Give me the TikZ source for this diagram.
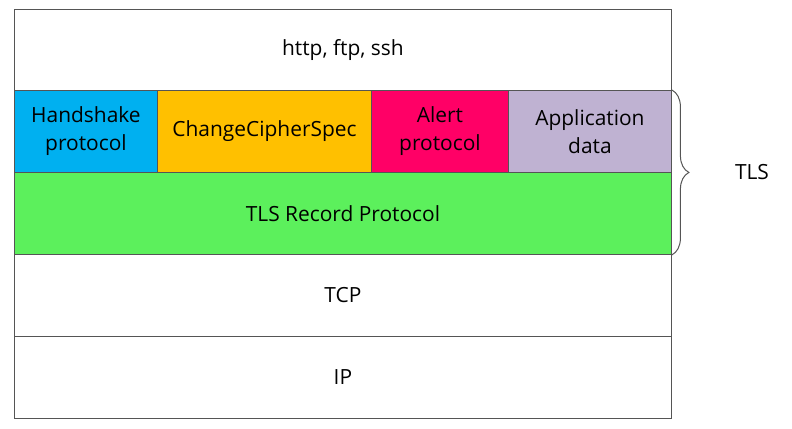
\documentclass[tikz,border=0pt]{standalone}
\usepackage{fontspec}
\setmainfont{Open Sans}
\usetikzlibrary{decorations.pathreplacing}
\definecolor{hsblue}{HTML}{00B0F0}
\definecolor{ccsorange}{HTML}{FFC000}
\definecolor{alertred}{HTML}{FF0066}
\definecolor{appviolet}{HTML}{BFB2D2}
\definecolor{recgreen}{HTML}{5CF05C}
\definecolor{edge}{HTML}{555555}
\tikzset{
  labelfont/.style={font=\fontsize{21}{28}\selectfont, text=black},
  layer/.style={draw=edge, line width=0.9bp, anchor=north west, inner sep=0pt,
    align=center, labelfont},
}
\begin{document}
\begin{tikzpicture}[x=1bp, y=-1bp]
\useasboundingbox (0,0) rectangle (792,428);
% application layer
\node[layer, fill=white, minimum width=657bp, minimum height=81bp] (app) at (14,9) {http, ftp, ssh};
% TLS sub-protocols
\node[layer, fill=hsblue, minimum width=143bp, minimum height=82bp] (hs) at (14,90) {Handshake\\protocol};
\node[layer, fill=ccsorange, minimum width=214bp, minimum height=82bp] (ccs) at (157,90) {ChangeCipherSpec};
\node[layer, fill=alertred, minimum width=137bp, minimum height=82bp] (alert) at (371,90) {Alert\\protocol};
\node[layer, fill=appviolet, minimum width=163bp, minimum height=82bp] (data) at (508,90) {Application\\data};
% record layer
\node[layer, fill=recgreen, minimum width=657bp, minimum height=82bp] (rec) at (14,172) {TLS Record Protocol};
% transport and network layers
\node[layer, fill=white, minimum width=657bp, minimum height=82bp] (tcp) at (14,254) {TCP};
\node[layer, fill=white, minimum width=657bp, minimum height=82bp] (ip) at (14,336) {IP};
% brace grouping the TLS layers
\draw[edge, line width=1bp, decorate, decoration={brace, amplitude=17bp, aspect=0.5}]
  (data.north east) -- (rec.south east);
\node[labelfont, anchor=center] (tls) at (752,172) {TLS};
\end{tikzpicture}
\end{document}
